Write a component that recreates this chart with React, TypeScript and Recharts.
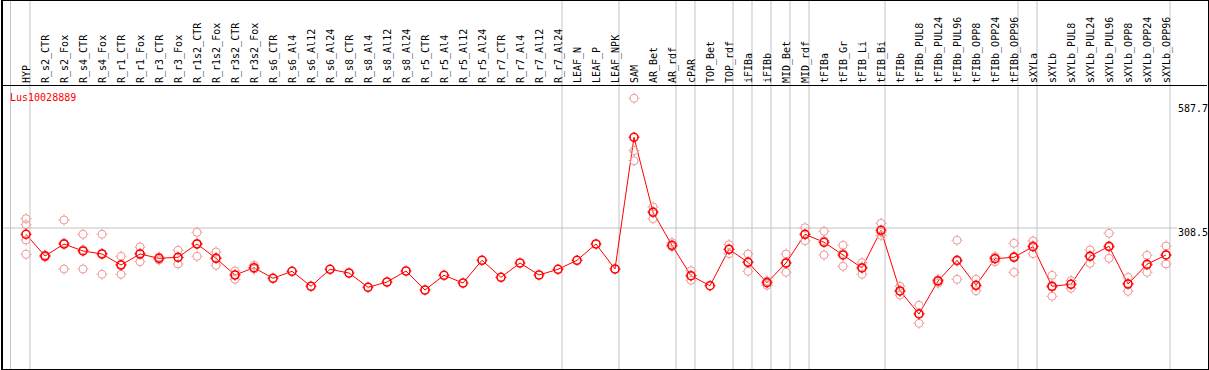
import {
  ComposedChart, Line, Scatter, XAxis, YAxis, ReferenceLine,
} from "recharts";

const labels = [
  "HYP", "R_s2_CTR", "R_s2_Fox", "R_s4_CTR", "R_s4_Fox", "R_r1_CTR", "R_r1_Fox",
  "R_r3_CTR", "R_r3_Fox", "R_r1s2_CTR", "R_r1s2_Fox", "R_r3s2_CTR", "R_r3s2_Fox",
  "R_s6_CTR", "R_s6_Al4", "R_s6_Al12", "R_s6_Al24", "R_s8_CTR", "R_s8_Al4",
  "R_s8_Al12", "R_s8_Al24", "R_r5_CTR", "R_r5_Al4", "R_r5_Al12", "R_r5_Al24",
  "R_r7_CTR", "R_r7_Al4", "R_r7_Al12", "R_r7_Al24", "LEAF_N", "LEAF_P", "LEAF_NPK",
  "SAM", "AR_Bet", "AR_rdf", "cPAR", "TOP_Bet", "TOP_rdf", "iFIBa", "iFIBb",
  "MID_Bet", "MID_rdf", "tFIBa", "tFIB_Gr", "tFIB_Li", "tFIB_Bi", "tFIBb",
  "tFIBb_PUL8", "tFIBb_PUL24", "tFIBb_PUL96", "tFIBb_OPP8", "tFIBb_OPP24",
  "tFIBb_OPP96", "sXYLa", "sXYLb", "sXYLb_PUL8", "sXYLb_PUL24", "sXYLb_PUL96",
  "sXYLb_OPP8", "sXYLb_OPP24", "sXYLb_OPP96",
];

const means = [
  294.4, 245.5, 272.5, 256.8, 250.0, 225.2, 250.0, 240.3, 242.6, 272.5, 240.3,
  202.7, 219.1, 195.3, 211.0, 177.3, 215.5, 207.2, 175.0, 186.9, 211.7, 168.9,
  202.0, 184.7, 235.8, 197.5, 229.7, 202.7, 215.5, 235.8, 272.5, 216.2,
  512.8, 343.9, 269.6, 201.1, 178.6, 260.6, 231.3, 185.4, 229.7, 294.4,
  276.4, 247.8, 218.5, 303.4, 166.7, 114.9, 189.2, 235.8, 179.5, 239.4, 242.6,
  266.4, 177.3, 181.8, 244.8, 267.3, 182.4, 226.8, 247.8,
];

const replicates: number[][] = [
  [329.5, 316.0, 281.5, 249.3],
  [247.8, 245.5, 243.2],
  [326.6, 274.8, 216.2],
  [294.4, 259.7, 216.2],
  [294.4, 251.4, 204.3],
  [244.8, 226.6, 204.3],
  [265.8, 251.6, 232.7],
  [243.2, 241.0, 236.5],
  [258.3, 241.9, 227.5],
  [298.9, 273.9, 244.8],
  [254.5, 241.9, 224.6],
  [211.7, 203.4, 193.0],
  [224.6, 216.9, 216.2],
  [], [], [], [], [], [], [], [], [], [], [], [], [], [], [], [], [], [], [],
  [600.7, 482.7, 460.1],
  [355.9, 346.2, 329.5],
  [275.5, 266.9, 266.4],
  [212.4, 200.5, 190.8],
  [],
  [270.9, 260.1, 250.7],
  [250.0, 232.7, 211.0],
  [189.2, 187.4, 179.5],
  [250.0, 230.4, 208.8],
  [309.2, 293.9, 280.0],
  [301.1, 280.2, 247.8],
  [269.6, 251.4, 222.3],
  [230.4, 220.7, 204.3],
  [319.2, 298.9, 292.1],
  [177.3, 165.5, 157.7],
  [134.5, 116.2, 93.9],
  [192.1, 191.4, 184.0],
  [280.9, 233.6, 193.0],
  [193.0, 177.9, 167.3],
  [243.9, 241.7, 232.7],
  [274.1, 244.8, 208.8],
  [279.3, 269.4, 250.7],
  [202.0, 175.0, 154.7],
  [189.9, 182.4, 172.8],
  [259.0, 246.4, 229.1],
  [296.6, 265.1, 240.3],
  [197.5, 183.8, 166.0],
  [247.1, 224.6, 208.8],
  [268.0, 247.8, 227.5],
];

// group separators in column units (columns numbered from 1), just right of a point
const separators = [1.21, 29.21, 32.21, 35.21, 36.21, 38.21, 39.21, 40.21, 41.21, 42.21, 46.21, 53.21, 54.21, 61.21];
const yTicks = [0, 308.5, 587.7];
const geneName = "Lus10028889";

const FONT = "'DejaVu Sans Mono', monospace";
const GRID = "#c4c4c4";

const lineData = means.map((m, i) => ({ col: i + 1, mean: m }));
const repData = replicates.flatMap((reps, i) => reps.map(v => ({ col: i + 1, value: v })));

function Marker({ cx, cy, color, w }: { cx: number; cy: number; color: string; w: number }) {
  const r = 4;
  return (
    <g>
      <circle cx={cx} cy={cy} r={r} fill="none" stroke={color} strokeWidth={w} />
      <line x1={cx} y1={cy - r} x2={cx} y2={cy - r - 1.5} stroke={color} strokeWidth={1} />
      <line x1={cx} y1={cy + r} x2={cx} y2={cy + r + 1.5} stroke={color} strokeWidth={1} />
      <line x1={cx - r} y1={cy} x2={cx - r - 1.5} y2={cy} stroke={color} strokeWidth={1} />
      <line x1={cx + r} y1={cy} x2={cx + r + 1.5} y2={cy} stroke={color} strokeWidth={1} />
    </g>
  );
}

export default function App() {
  return (
    <div style={{ position: "absolute", left: 0, top: 0, width: 1209, height: 370, background: "#fff" }}>
      <ComposedChart
        width={1209}
        height={370}
        margin={{ top: 56, right: 0, bottom: 2, left: 7 }}
        style={{ position: "absolute", left: 0, top: 0 }}
      >
        <XAxis
          xAxisId={0}
          type="number"
          dataKey="col"
          orientation="top"
          domain={[0, 63]}
          ticks={labels.map((_, i) => i + 1)}
          interval={0}
          height={30}
          axisLine={false}
          tickLine={false}
          allowDataOverflow
          tick={(p: any) => (
            <text
              key={`t-${p.payload.value}`}
              transform={`translate(${p.x + 3.5}, 83) rotate(-90)`}
              fontSize={10}
              fontFamily={FONT}
              fill="#000"
              textAnchor="start"
            >
              {labels[p.payload.value - 1]}
            </text>
          )}
        />
        <YAxis
          yAxisId={0}
          orientation="right"
          domain={[-6.8, 628.4]}
          ticks={yTicks}
          width={5}
          axisLine={false}
          tickLine={false}
          allowDataOverflow
          tick={(p: any) => (
            <text
              key={`y-${p.payload.value}`}
              x={1178}
              y={p.payload.value === 0 ? p.y + 1 : p.y + 8}
              fontSize={10}
              fontFamily={FONT}
              fill="#000"
              textAnchor="start"
            >
              {p.payload.value}
            </text>
          )}
        />
        {separators.map(s => (
          <ReferenceLine
            key={`sep-${s}`}
            x={s}
            ifOverflow="visible"
            shape={(p: any) => <line x1={p.x1} x2={p.x2} y1={0} y2={369} stroke={GRID} strokeWidth={1} />}
          />
        ))}
        <ReferenceLine
          segment={[{ x: -0.26, y: 308.5 }, { x: 61.6, y: 308.5 }]}
          ifOverflow="visible"
          stroke={GRID}
          strokeWidth={1}
        />
        <Scatter
          data={repData}
          dataKey="value"
          isAnimationActive={false}
          shape={(p: any) => <Marker cx={p.cx} cy={p.cy} color="#f09a9a" w={1} />}
        />
        <Line
          data={lineData}
          dataKey="mean"
          stroke="#ff0000"
          strokeWidth={1}
          isAnimationActive={false}
          dot={(p: any) => <Marker key={`d-${p.index}`} cx={p.cx} cy={p.cy} color="#ff0000" w={1.6} />}
          activeDot={false}
        />
      </ComposedChart>
      {/* outer frame, left column rule, header rule and series name, over the chart */}
      <div style={{ position: "absolute", left: 1, top: 0, width: 1205, height: 368, border: "1px solid #000", borderLeftWidth: 2, pointerEvents: "none" }} />
      <div style={{ position: "absolute", left: 10, top: 1, width: 1, height: 368, background: GRID }} />
      <div style={{ position: "absolute", left: 2, top: 85, width: 1205, height: 1, background: "#000" }} />
      <div style={{ position: "absolute", left: 10, top: 92, fontFamily: FONT, fontSize: 10, color: "#ff0000" }}>{geneName}</div>
    </div>
  );
}
